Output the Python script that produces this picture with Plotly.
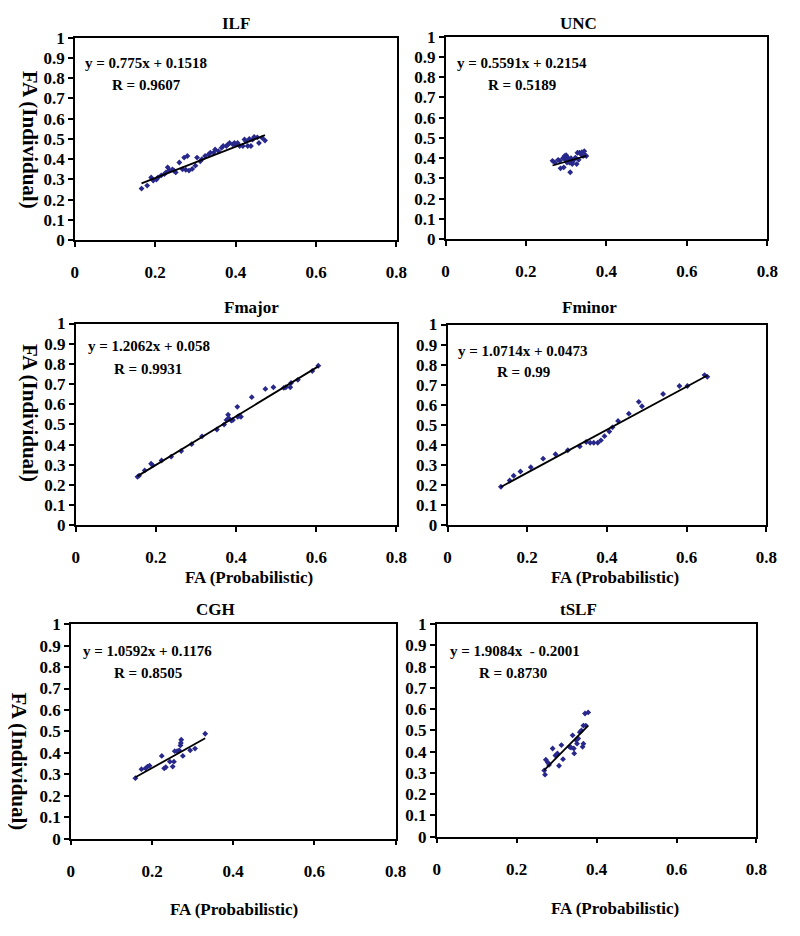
import plotly.graph_objects as go

# page is 800x936; browser body has an 8px margin, so figure is 784x920 placed at (8, 8)
PAGE_OFF = 8
W, H = 784, 920

# ---------------- data ----------------
panel_names = ["ILF", "UNC", "Fmajor", "Fminor", "CGH", "tSLF"]

ilf_x = [0.166, 0.18, 0.19, 0.195, 0.203, 0.207, 0.215, 0.223, 0.227, 0.231, 0.235, 0.243, 0.247,
         0.251, 0.26, 0.268, 0.272, 0.28, 0.276, 0.284, 0.292, 0.30, 0.304, 0.312, 0.316, 0.324,
         0.333, 0.337, 0.345, 0.349, 0.357, 0.365, 0.369, 0.377, 0.381, 0.385, 0.393, 0.397, 0.40,
         0.405, 0.41, 0.418, 0.422, 0.426, 0.43, 0.434, 0.438, 0.442, 0.446, 0.454, 0.458, 0.466, 0.473]
ilf_y = [0.255, 0.27, 0.31, 0.295, 0.30, 0.31, 0.32, 0.327, 0.335, 0.36, 0.345, 0.35, 0.343,
         0.335, 0.384, 0.35, 0.408, 0.416, 0.348, 0.344, 0.352, 0.368, 0.408, 0.39, 0.40, 0.416,
         0.424, 0.432, 0.432, 0.448, 0.44, 0.456, 0.465, 0.465, 0.473, 0.48, 0.473, 0.48, 0.473,
         0.48, 0.465, 0.465, 0.497, 0.489, 0.465, 0.50, 0.465, 0.497, 0.51, 0.508, 0.48, 0.505, 0.492]

unc_x = [0.266, 0.272, 0.28, 0.284, 0.286, 0.292, 0.294, 0.296, 0.298, 0.30, 0.302, 0.304, 0.307,
         0.308, 0.31, 0.312, 0.315, 0.316, 0.32, 0.323, 0.326, 0.328, 0.331, 0.333, 0.337, 0.339,
         0.342, 0.345, 0.347, 0.35]
unc_y = [0.387, 0.379, 0.392, 0.387, 0.35, 0.40, 0.355, 0.411, 0.392, 0.415, 0.379, 0.403, 0.392,
         0.379, 0.331, 0.40, 0.371, 0.382, 0.395, 0.403, 0.371, 0.427, 0.392, 0.427, 0.419, 0.43,
         0.411, 0.435, 0.415, 0.411]

fmaj_x = [0.154, 0.158, 0.172, 0.188, 0.192, 0.214, 0.238, 0.263, 0.289, 0.315, 0.352, 0.37,
          0.376, 0.38, 0.382, 0.388, 0.392, 0.403, 0.404, 0.408, 0.412, 0.439, 0.473, 0.493,
          0.519, 0.524, 0.535, 0.537, 0.554, 0.59, 0.605]
fmaj_y = [0.24, 0.246, 0.272, 0.305, 0.297, 0.321, 0.34, 0.368, 0.402, 0.441, 0.475, 0.499,
          0.522, 0.548, 0.53, 0.519, 0.522, 0.587, 0.538, 0.543, 0.538, 0.635, 0.676, 0.684,
          0.681, 0.684, 0.684, 0.705, 0.721, 0.765, 0.791]

fmin_x = [0.134, 0.156, 0.166, 0.183, 0.209, 0.24, 0.271, 0.302, 0.332, 0.348, 0.358, 0.367,
          0.377, 0.385, 0.394, 0.406, 0.414, 0.428, 0.455, 0.48, 0.488, 0.541, 0.582, 0.602,
          0.645, 0.652]
fmin_y = [0.192, 0.223, 0.247, 0.268, 0.289, 0.332, 0.354, 0.374, 0.393, 0.415, 0.411, 0.411,
          0.411, 0.423, 0.444, 0.467, 0.488, 0.52, 0.556, 0.615, 0.593, 0.654, 0.694, 0.694,
          0.748, 0.74]

cgh_x = [0.159, 0.174, 0.184, 0.189, 0.194, 0.224, 0.23, 0.234, 0.244, 0.251, 0.254, 0.256,
         0.262, 0.267, 0.27, 0.272, 0.271, 0.276, 0.294, 0.306, 0.331]
cgh_y = [0.282, 0.324, 0.328, 0.336, 0.34, 0.386, 0.328, 0.333, 0.359, 0.336, 0.359, 0.408,
         0.408, 0.412, 0.435, 0.461, 0.446, 0.386, 0.412, 0.42, 0.489]

tslf_x = [0.269, 0.271, 0.273, 0.278, 0.281, 0.29, 0.297, 0.302, 0.306, 0.312, 0.316, 0.332,
          0.336, 0.34, 0.343, 0.344, 0.349, 0.351, 0.354, 0.358, 0.362, 0.365, 0.367, 0.367,
          0.371, 0.373, 0.379]
tslf_y = [0.312, 0.292, 0.362, 0.349, 0.338, 0.415, 0.382, 0.392, 0.334, 0.431, 0.365, 0.423,
          0.42, 0.477, 0.415, 0.392, 0.454, 0.438, 0.462, 0.492, 0.5, 0.423, 0.438, 0.523,
          0.58, 0.523, 0.585]

xs = [ilf_x, unc_x, fmaj_x, fmin_x, cgh_x, tslf_x]
ys = [ilf_y, unc_y, fmaj_y, fmin_y, cgh_y, tslf_y]

slopes = [0.775, 0.5591, 1.2062, 1.0714, 1.0592, 1.9084]
intercepts = [0.1518, 0.2154, 0.058, 0.0473, 0.1176, -0.2001]
eq_texts = ["y = 0.775x + 0.1518", "y = 0.5591x + 0.2154", "y = 1.2062x + 0.058",
            "y = 1.0714x + 0.0473", "y = 1.0592x + 0.1176", "y = 1.9084x  - 0.2001"]
r_texts = ["R = 0.9607", "R = 0.5189", "R = 0.9931", "R = 0.99", "R = 0.8505", "R = 0.8730"]

x_tickvals = [0, 0.2, 0.4, 0.6, 0.8]
x_ticktext = ["0", "0.2", "0.4", "0.6", "0.8"]
y_tickvals = [0, 0.1, 0.2, 0.3, 0.4, 0.5, 0.6, 0.7, 0.8, 0.9, 1]
y_ticktext = ["0", "0.1", "0.2", "0.3", "0.4", "0.5", "0.6", "0.7", "0.8", "0.9", "1"]

x_title = "FA (Probabilistic)"
y_title = "FA (Individual)"

# ---------------- layout (page-pixel boxes: left, right, top, bottom) ----------------
boxes = [(72, 400, 29, 236), (450, 778, 28, 235), (73, 400, 321, 527),
         (452, 777, 322, 527), (68, 399, 628, 847), (441, 767, 628, 845)]
title_pos = [(236, 15), (586, 15), (252, 305), (597, 305), (215, 613), (586, 613)]
eq_pos = [(80, 55, 108, 77), (460, 55, 491, 77), (83, 344, 110, 367),
          (461, 349, 500, 370), (78, 655, 110, 678), (452, 655, 482, 678)]
xtitle_pos = [None, None, (250, 580), (623, 580), (234, 919), (623, 918)]
ytitle_pos = [(26, 133), None, (27, 412), None, (15, 768), None]

FONT = "Liberation Serif"
fig = go.Figure()
annotations = []
layout = {}


def px(x):
    return (x - PAGE_OFF) / W


def py(y):
    return 1 - (y - PAGE_OFF) / H


for i in range(6):
    n = i + 1
    xa = "x" if n == 1 else f"x{n}"
    ya = "y" if n == 1 else f"y{n}"
    l, r, t, b = boxes[i]
    fig.add_trace(go.Scatter(
        x=xs[i], y=ys[i], mode="markers", xaxis=xa, yaxis=ya,
        marker=dict(symbol="diamond", size=4.5, color="#28288c"), showlegend=False))
    x0, x1 = min(xs[i]), max(xs[i])
    fig.add_trace(go.Scatter(
        x=[x0, x1], y=[slopes[i] * x0 + intercepts[i], slopes[i] * x1 + intercepts[i]],
        mode="lines", xaxis=xa, yaxis=ya, line=dict(color="black", width=1.8), showlegend=False))
    axis_common = dict(showline=True, linecolor="black", linewidth=1.5, mirror=True,
                       ticks="outside", ticklen=5, tickwidth=1.5, tickcolor="black",
                       showgrid=False, zeroline=False, fixedrange=True,
                       tickfont=dict(family=FONT, size=17, color="black", weight="bold"))
    layout["xaxis" if n == 1 else f"xaxis{n}"] = dict(
        axis_common, domain=[px(l), px(r)], range=[0, 0.8], anchor=ya,
        tickvals=x_tickvals, ticktext=x_ticktext, ticklabelstandoff=11)
    layout["yaxis" if n == 1 else f"yaxis{n}"] = dict(
        axis_common, domain=[py(b), py(t)], range=[0, 1], anchor=xa,
        tickvals=y_tickvals, ticktext=y_ticktext)

    tx, ty = title_pos[i]
    annotations.append(dict(text=panel_names[i], x=px(tx), y=py(ty), xref="paper", yref="paper",
                            showarrow=False, xanchor="center", yanchor="middle",
                            font=dict(family=FONT, size=17, color="black", weight="bold")))
    ex, ey, rx, ry = eq_pos[i]
    annotations.append(dict(text=eq_texts[i], x=px(ex), y=py(ey), xref="paper", yref="paper",
                            showarrow=False, xanchor="left", yanchor="middle",
                            font=dict(family=FONT, size=15, color="black", weight="bold")))
    annotations.append(dict(text=r_texts[i], x=px(rx), y=py(ry), xref="paper", yref="paper",
                            showarrow=False, xanchor="left", yanchor="middle",
                            font=dict(family=FONT, size=15, color="black", weight="bold")))
    if xtitle_pos[i]:
        ax_, ay_ = xtitle_pos[i]
        annotations.append(dict(text=x_title, x=px(ax_), y=py(ay_), xref="paper", yref="paper",
                                showarrow=False, xanchor="center", yanchor="middle",
                                font=dict(family=FONT, size=17, color="black", weight="bold")))
    if ytitle_pos[i]:
        ax_, ay_ = ytitle_pos[i]
        annotations.append(dict(text=y_title, x=px(ax_), y=py(ay_), xref="paper", yref="paper",
                                showarrow=False, xanchor="center", yanchor="middle", textangle=90,
                                font=dict(family=FONT, size=21, color="black", weight="bold")))

fig.update_layout(width=W, height=H, margin=dict(l=0, r=0, t=0, b=0),
                  paper_bgcolor="white", plot_bgcolor="white",
                  annotations=annotations, **layout)

fig.write_html("out.html")
